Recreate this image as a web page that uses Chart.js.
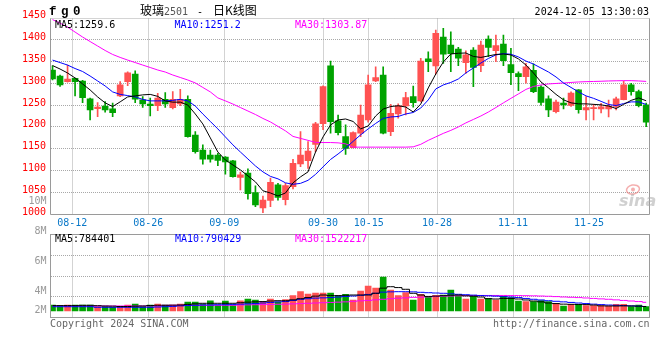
<!DOCTYPE html>
<html><head><meta charset="utf-8">
<script src="https://cdn.jsdelivr.net/npm/chart.js@4.4.1/dist/chart.umd.min.js"></script>
<style>
html,body{margin:0;padding:0;background:#fff;}
#wrap{position:relative;width:660px;height:360px;overflow:hidden;background:#fff;}
canvas{position:absolute;left:0;top:0;}
</style></head><body>
<div id="wrap"><canvas id="k" width="660" height="360"></canvas><canvas id="v" width="660" height="360"></canvas></div>
<script>
// ---------------- data ----------------
const dates = ['08-07','08-08','08-09','08-12','08-13','08-14','08-15','08-16','08-19','08-20',
'08-21','08-22','08-23','08-26','08-27','08-28','08-29','08-30','09-02','09-03',
'09-04','09-05','09-06','09-09','09-10','09-11','09-12','09-13','09-18','09-19',
'09-20','09-23','09-24','09-25','09-26','09-27','09-30','10-08','10-09','10-10',
'10-11','10-14','10-15','10-16','10-17','10-18','10-21','10-22','10-23','10-24',
'10-25','10-28','10-29','10-30','10-31','11-01','11-04','11-05','11-06','11-07',
'11-08','11-11','11-12','11-13','11-14','11-15','11-18','11-19','11-20','11-21',
'11-22','11-25','11-26','11-27','11-28','11-29','12-02','12-03','12-04','12-05'];
const tickLabels = ['08-12','08-26','09-09','09-30','10-15','10-28','11-11','11-25'];
const priceTicks = [1000,1050,1100,1150,1200,1250,1300,1350,1400,1450];
const volAxisLabels = ['10M','8M','6M','4M','2M'];

const open = [1329.9,1316.2,1303.2,1311,1304.9,1264,1241.5,1247.4,1241.5,1270.8,
1303.2,1320.8,1261.7,1252.2,1248.3,1263.2,1243.8,1252.2,1263.2,1181.1,
1147.3,1135.9,1135.9,1130.9,1122.3,1084.9,1094.4,1049.9,1015,1032.4,
1067.7,1034,1063.4,1115.4,1122.9,1159.8,1207.2,1339.7,1213.6,1177.8,
1152.8,1185.6,1215.8,1304.9,1318.5,1189.3,1229.5,1247.8,1269.2,1259.4,
1355.2,1339.2,1405.2,1387,1377.9,1346.9,1375.5,1339.7,1400.6,1374.1,
1388.9,1342.2,1321.6,1314.7,1329.2,1291.2,1264,1234.8,1254.2,1248.8,
1284.4,1238.6,1241.8,1240.8,1240.8,1246.8,1262.2,1295.8,1280.6,1250.2];
const high = [1339.7,1318.5,1341.2,1311.7,1306.2,1265.6,1255.6,1257.8,1254.2,1303.2,
1326,1328.2,1269.2,1265.6,1276.9,1278.2,1280.6,1286,1270.8,1189.3,
1159,1147.3,1139.4,1132,1123.4,1096.6,1104.1,1065.4,1042.3,1082.9,
1071.4,1071.4,1126.1,1189.3,1166.5,1210.2,1293.5,1350.5,1227.2,1204.5,
1188.8,1249.8,1318.5,1337.4,1337.4,1251.5,1252.8,1279.2,1293.2,1356.5,
1371.5,1421.1,1425,1417.2,1381.5,1373.4,1380.9,1396.1,1408.1,1409.7,
1409.7,1379.5,1326,1345.2,1344.2,1294.2,1271.2,1261.2,1265.6,1280.2,
1285.2,1269.2,1251.8,1253.8,1261.2,1268.2,1304.9,1299.7,1284.2,1254.2];
const low = [1307.2,1292.2,1302.2,1270.8,1255.6,1215.8,1223.3,1233.8,1223.3,1269.2,
1294.2,1255.6,1244.7,1224.8,1236.8,1244.7,1240.8,1248.3,1176.8,1139.8,
1114.8,1119.4,1111.4,1092,1085.4,1056.4,1035,1018,1004,1018,
1033,1022,1058.4,1109.4,1105.4,1143.4,1193.8,1185.6,1181.8,1137.4,
1151.8,1177.8,1210.6,1303.2,1183.8,1180.2,1219.8,1227.2,1244.8,1257,
1326,1320.2,1345.2,1326,1339.7,1322.2,1291.9,1326,1360.5,1348.7,
1339.7,1296.6,1282.5,1299.7,1278.2,1249.8,1223.3,1231.8,1240.8,1246.8,
1231.1,1215.8,1215.8,1231.8,1222.8,1238.8,1261.7,1272.2,1245.8,1200.8];
const close = [1309.4,1295.8,1309.4,1303.2,1267,1238.6,1245.1,1238.6,1232.4,1295.8,
1323.7,1263.2,1252.2,1248.3,1265.6,1252.2,1263.2,1263.2,1177.8,1143.4,
1126.1,1126.1,1123.4,1119.9,1086.6,1090.4,1047.7,1021.9,1033.2,1073.4,
1039,1065.8,1117,1135.9,1145,1206.8,1291.9,1212,1187,1151.1,
1187,1227.2,1295.8,1312.4,1185.6,1231.1,1248.3,1266.9,1255.2,1350.2,
1348.7,1413.5,1366.2,1367.3,1356.8,1364.3,1335.6,1387,1381.3,1385.5,
1351,1323.7,1314.7,1337.4,1280.6,1256,1238.6,1256.5,1250.2,1277.5,
1239.4,1244.3,1243.8,1246.1,1247.8,1264,1295.8,1280.6,1248.7,1210.6];

const ma5 = [1340.1,1332.2,1323.1,1311.7,1298.1,1284.4,1268.5,1254.9,1246.5,1257.2,
1268.5,1270.8,1273.1,1274.2,1269.7,1259.4,1256.5,1256.5,1249.9,1229.5,
1206.8,1174.9,1142.7,1124.5,1113.2,1101.8,1088.2,1074.5,1054.1,1049.1,
1042.3,1049.1,1072.3,1085.9,1097.3,1142.7,1177.2,1204.5,1215.8,1218.1,
1212.4,1195.4,1202.2,1224.9,1240.7,1246.5,1248.3,1245.4,1234,1252.2,
1289,1320.8,1348.1,1366.5,1368.1,1368.8,1360.9,1358.6,1362,1365.4,
1366.5,1364.3,1355.2,1341.2,1323.1,1302.6,1289,1274.2,1261.7,1254.9,
1252.6,1252.6,1251.5,1250.3,1247.7,1242,1251.5,1260.6,1266.2,1259.6];
const ma10 = [1352.6,1346.9,1341.2,1333.3,1326.5,1316.2,1304.9,1293.5,1279.9,1274.2,
1271.5,1268.5,1262.8,1259.4,1259.4,1259.4,1260.6,1262.8,1259.4,1247.7,
1229.5,1212.4,1195.4,1177.2,1159,1142.7,1126.8,1110.9,1097.3,1087,
1081.4,1072.3,1068.9,1071.1,1078,1091.6,1108.7,1125.7,1138.2,1151.8,
1167,1181.8,1195.4,1207.9,1219.3,1222.7,1223.8,1229.5,1232.9,1243.1,
1261.7,1286.7,1295.8,1301.5,1309.4,1323.1,1334.4,1345.8,1356.3,1364.3,
1367.2,1365.9,1359.7,1350.3,1343.5,1334.4,1325.3,1314,1300.3,1290.1,
1279.9,1270.8,1265.2,1258.3,1251.1,1248.8,1253.3,1257.1,1257.1,1251.2];
const ma30 = [1444.9,1437,1427.9,1416.5,1405.2,1394.9,1384.7,1374.5,1365.4,1358.6,
1352.6,1346.9,1341.2,1335.6,1329.9,1325.3,1318.5,1312.8,1307.1,1300.4,
1290.1,1279.9,1266.2,1259.4,1252.2,1244.2,1236.3,1228.3,1219.3,1211.3,
1201.1,1190.9,1178.3,1173.8,1169.3,1164.7,1164.3,1164.3,1163.6,1161.3,
1153.8,1153.8,1153.8,1153.8,1153.8,1153.8,1153.8,1153.8,1154.5,1160.2,
1169.3,1177.2,1185.2,1192,1199.9,1209.1,1217,1224.9,1234,1244.2,
1254.9,1265.2,1275.3,1285.6,1292.4,1295.8,1298.1,1299.2,1300.3,1301.5,
1302.6,1303.3,1303.7,1304.2,1304.9,1305.3,1305.6,1305.6,1304.9,1303.87];

const volume = [1050000,752000,1050000,1050000,1050000,1050000,752000,752000,648000,752000,
1050000,1225000,752000,1050000,1225000,1050000,1050000,1225000,1575000,1575000,
1225000,1800000,1050000,1750000,1050000,1800000,2100000,1925000,1575000,2100000,
1575000,1980000,2680000,3380000,2975000,3150000,3150000,3150000,2625000,2920000,
1925000,3500000,4375000,4025000,5950000,3675000,2680000,3240000,1925000,2920000,
2570000,2750000,2800000,3675000,2800000,2100000,2625000,2100000,2220000,1925000,
2625000,2330000,1750000,1630000,1630000,1840000,1630000,1310000,875000,1170000,
1170000,962000,962000,962000,875000,1170000,1170000,752000,1050000,752000];
const volMa5 = [950000,950000,950000,950000,990000,990000,930000,870000,850000,790000,
790000,850000,880000,960000,1000000,1000000,1020000,1050000,1150000,1250000,
1350000,1350000,1350000,1350000,1350000,1450000,1550000,1600000,1650000,1750000,
1800000,1800000,1950000,2150000,2350000,2600000,2800000,2700000,2700000,2750000,
2800000,2800000,2800000,3100000,4000000,4250000,4100000,3800000,3100000,2800000,
2550000,2600000,2680000,2750000,2800000,2650000,2600000,2450000,2150000,2100000,
2200000,2200000,2100000,1930000,1750000,1600000,1400000,1300000,1200000,1170000,
1150000,1120000,1050000,900000,880000,880000,900000,880000,850000,784401];
const volMa10 = [750000,750000,750000,750000,750000,750000,650000,650000,650000,650000,
650000,650000,650000,650000,700000,750000,800000,900000,950000,1000000,
1050000,1050000,1100000,1100000,1150000,1200000,1250000,1300000,1400000,1500000,
1600000,1650000,1850000,2050000,2150000,2250000,2300000,2350000,2450000,2550000,
2630000,2750000,2900000,3100000,3300000,3350000,3380000,3380000,3350000,3270000,
3200000,3150000,3100000,3000000,2920000,2850000,2780000,2700000,2650000,2600000,
2500000,2450000,2350000,2200000,2050000,1930000,1800000,1700000,1600000,1500000,
1400000,1300000,1200000,1120000,1050000,1000000,950000,900000,850000,790429];
const volMa30 = [880000,880000,880000,880000,880000,880000,880000,880000,880000,880000,
880000,880000,880000,880000,880000,1000000,1000000,1000000,1000000,1000000,
1000000,1000000,1000000,1000000,1000000,1050000,1080000,1100000,1120000,1150000,
1180000,1200000,1250000,1300000,1350000,1400000,1450000,1500000,1550000,1600000,
1700000,1780000,1850000,1950000,2050000,2150000,2250000,2300000,2380000,2420000,
2480000,2550000,2600000,2630000,2660000,2680000,2700000,2720000,2720000,2720000,
2720000,2700000,2700000,2680000,2660000,2620000,2580000,2520000,2450000,2400000,
2350000,2280000,2200000,2120000,2050000,1950000,1850000,1750000,1650000,1522217];

// ---------------- styles ----------------
const RED = '#ff5252', GREEN = '#00a300';
const FRAME = '#9a9a9a', GRID = '#a8a8a8';
const MONO = '"DejaVu Sans Mono", "Liberation Mono", monospace';
const CJK = '"Noto Sans CJK SC", sans-serif';
const idx = dates.map((d, i) => i);
const candleColor = idx.map(i => close[i] >= open[i] ? RED : GREEN);
const tickIndex = tickLabels.map(l => dates.indexOf(l));

const xCandle = {type:'linear', display:false, offset:false, grid:{offset:false}, min:-0.27, max:79.44, bounds:'data'};
function gridX(showLabels){
  return {
    type:'linear', position:'bottom', min:0.132, max:78.95, bounds:'data', offset:false,
    afterBuildTicks: s => { s.ticks = tickIndex.map(v => ({value:v})); },
    afterFit: s => { s.height = showLabels ? 145.5 : 42.5; },
    grid:{color:GRID, lineWidth:1, drawTicks:false, offset:false},
    border:{display:false, dash:[1,1]},
    ticks:{display:showLabels, autoSkip:false, maxRotation:0, padding:3,
      color:'#0a78c8', font:{family:MONO, size:10},
      callback: v => dates[v]}
  };
}

const mainDecor = {
  id:'mainDecor',
  afterDraw(chart){
    const {ctx, chartArea:a} = chart;
    ctx.save();
    ctx.lineWidth = 1; ctx.strokeStyle = FRAME; ctx.setLineDash([]);
    ctx.beginPath();
    ctx.moveTo(a.left, a.top); ctx.lineTo(a.left, a.bottom); ctx.lineTo(a.right, a.bottom); ctx.lineTo(a.right, a.top);
    ctx.stroke();
    ctx.strokeStyle = GRID; ctx.setLineDash([1,1]);
    ctx.beginPath(); ctx.moveTo(a.left, a.top); ctx.lineTo(a.right, a.top); ctx.stroke();
    ctx.setLineDash([]);
    ctx.textBaseline = 'alphabetic';
    ctx.fillStyle = '#000';
    ctx.font = 'bold 12.5px "Liberation Mono", monospace';
    try { ctx.letterSpacing = '-1.5px'; } catch(e) {}
    ctx.textAlign = 'left';
    ctx.fillText('f g 0', 49, 15);
    try { ctx.letterSpacing = '0px'; } catch(e) {}
    ctx.font = '12px ' + CJK; ctx.fillStyle = '#000';
    ctx.fillText('玻璃', 140, 15);
    ctx.font = '10px ' + MONO; ctx.fillStyle = '#555';
    ctx.fillText('2501', 164, 15);
    ctx.fillStyle = '#000';
    ctx.fillText('-', 197, 15);
    ctx.font = '12px ' + CJK;
    ctx.fillText('日K线图', 213, 15);
    ctx.font = '10px ' + MONO; ctx.textAlign = 'right';
    ctx.fillText('2024-12-05 13:30:03', 649, 15);
    ctx.textAlign = 'left';
    ctx.fillStyle = '#000'; ctx.fillText('MA5:' + ma5[ma5.length-1], 55, 27.5);
    ctx.fillStyle = '#0000ff'; ctx.fillText('MA10:' + ma10[ma10.length-1], 174.5, 27.5);
    ctx.fillStyle = '#ff00ff'; ctx.fillText('MA30:' + ma30[ma30.length-1], 295, 27.5);
    ctx.strokeStyle = 'rgba(235,110,110,0.55)'; ctx.lineWidth = 1.5;
    ctx.beginPath(); ctx.ellipse(633, 189.5, 6.5, 4.5, -0.2, 0, Math.PI*2); ctx.stroke();
    ctx.fillStyle = 'rgba(235,110,110,0.55)';
    ctx.beginPath(); ctx.arc(633, 189.5, 2, 0, Math.PI*2); ctx.fill();
    ctx.font = 'italic bold 16px "DejaVu Sans", sans-serif'; ctx.fillStyle = 'rgba(170,170,170,0.55)';
    ctx.fillText('sina', 619, 206);
    ctx.restore();
  }
};

const volDecor = {
  id:'volDecor',
  afterDraw(chart){
    const {ctx, chartArea:a} = chart;
    ctx.save();
    ctx.lineWidth = 1; ctx.strokeStyle = FRAME; ctx.setLineDash([]);
    ctx.strokeRect(a.left, a.top, a.right - a.left, a.bottom - a.top);
    ctx.font = '10px ' + MONO; ctx.textBaseline = 'alphabetic'; ctx.textAlign = 'left';
    ctx.fillStyle = '#000'; ctx.fillText('MA5:' + volMa5[volMa5.length-1], 55, 242);
    ctx.fillStyle = '#0000ff'; ctx.fillText('MA10:' + volMa10[volMa10.length-1], 175, 242);
    ctx.fillStyle = '#ff00ff'; ctx.fillText('MA30:' + volMa30[volMa30.length-1], 295, 242);
    const labelY = [204, 234.3, 264.3, 294, 313.3];
    ctx.fillStyle = '#999'; ctx.textAlign = 'right';
    volAxisLabels.forEach((t, i) => ctx.fillText(t, 46.5, labelY[i]));
    ctx.fillStyle = '#666'; ctx.textAlign = 'left';
    ctx.fillText('Copyright 2024 SINA.COM', 50, 327);
    ctx.textAlign = 'right';
    ctx.fillText('http://finance.sina.com.cn', 649.5, 327);
    ctx.restore();
  }
};

new Chart(document.getElementById('k'), {
  type:'bar',
  data:{datasets:[
    {type:'line', data: idx.map(i => ({x:i, y:ma5[i]})), borderColor:'#000', borderWidth:1, pointRadius:0, tension:0, order:1},
    {type:'line', data: idx.map(i => ({x:i, y:ma10[i]})), borderColor:'#0000ff', borderWidth:1, pointRadius:0, tension:0, order:2},
    {type:'line', data: idx.map(i => ({x:i, y:ma30[i]})), borderColor:'#ff00ff', borderWidth:1, pointRadius:0, tension:0, order:3},
    {type:'bar', data: idx.map(i => ({x:i, y:[open[i], close[i]]})), backgroundColor: candleColor, barThickness:6, minBarLength:1, grouped:false, borderWidth:0, order:4},
    {type:'bar', data: idx.map(i => ({x:i, y:[low[i], high[i]]})), backgroundColor: candleColor, barThickness:1, grouped:false, borderWidth:0, order:5}
  ]},
  options:{
    responsive:false, animation:false, devicePixelRatio:1,
    layout:{padding:{top:18.5, right:10.5, bottom:0, left:0}},
    plugins:{legend:{display:false}, tooltip:{enabled:false}},
    scales:{
      x: xCandle,
      xg: gridX(true),
      y:{type:'linear', position:'left', min:1000, max:1447.5, bounds:'data',
        afterBuildTicks: s => { s.ticks = priceTicks.map(v => ({value:v})); },
        afterFit: s => { s.width = 50.5; },
        grid:{drawTicks:false, lineWidth:1,
          color: c => (c.tick && (c.tick.value <= 1000 || c.tick.value > 1447.5)) ? 'rgba(0,0,0,0)' : GRID},
        border:{display:false, dash:[1,1]},
        ticks:{autoSkip:false, padding:4.5, labelOffset:-2, color:'#ff0000', font:{family:MONO, size:10},
          callback: v => String(v)}
      }
    }
  },
  plugins:[mainDecor]
});

new Chart(document.getElementById('v'), {
  type:'bar',
  data:{datasets:[
    {type:'line', data: idx.map(i => ({x:i, y:volMa5[i]})), borderColor:'#000', borderWidth:1, pointRadius:0, stepped:'middle', order:1},
    {type:'line', data: idx.map(i => ({x:i, y:volMa10[i]})), borderColor:'#0000ff', borderWidth:1, pointRadius:0, stepped:'middle', order:2},
    {type:'line', data: idx.map(i => ({x:i, y:volMa30[i]})), borderColor:'#ff00ff', borderWidth:1, pointRadius:0, stepped:'middle', order:3},
    {type:'bar', data: idx.map(i => ({x:i, y:volume[i]})), backgroundColor: candleColor, barThickness:6, grouped:false, borderWidth:0, order:4}
  ]},
  options:{
    responsive:false, animation:false, devicePixelRatio:1,
    layout:{padding:{top:234.5, right:10.5, bottom:0, left:0}},
    plugins:{legend:{display:false}, tooltip:{enabled:false}},
    scales:{
      x: xCandle,
      xg: gridX(false),
      y:{type:'linear', position:'left', min:-1137500, max:13387500, bounds:'data',
        afterBuildTicks: s => { s.ticks = [2493750, 6125000, 9756250].map(v => ({value:v})); },
        afterFit: s => { s.width = 50.5; },
        grid:{drawTicks:false, lineWidth:1, color:GRID},
        border:{display:false, dash:[1,1]},
        ticks:{display:false}
      }
    }
  },
  plugins:[volDecor]
});
</script>
</body></html>
